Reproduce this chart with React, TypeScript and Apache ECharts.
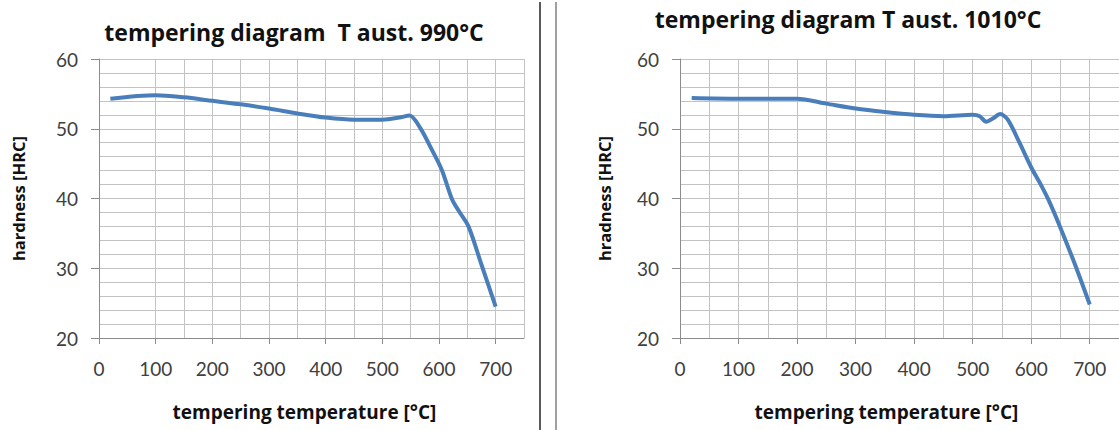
import React, { useEffect, useRef } from "react";
import * as echarts from "echarts";

const temps990 = [20, 100, 150, 200, 250, 300, 350, 400, 450, 500, 530, 548, 567, 588, 605, 623, 635, 652, 675, 700];
const hrc990 = [54.3, 54.8, 54.5, 54.0, 53.5, 52.9, 52.2, 51.6, 51.3, 51.3, 51.6, 51.9, 50.1, 46.9, 44.1, 39.9, 38.2, 36.0, 30.5, 24.5];
const temps1010 = [20, 100, 150, 200, 250, 300, 350, 400, 450, 500, 512, 523, 535, 547, 560, 580, 601, 615, 629, 649, 675, 700];
const hrc1010 = [54.4, 54.3, 54.3, 54.3, 53.6, 52.9, 52.4, 52.0, 51.8, 52.0, 51.8, 51.0, 51.5, 52.1, 51.3, 48.0, 44.3, 42.2, 39.9, 36.0, 30.5, 24.8];
const xTickLabels = [0, 100, 200, 300, 400, 500, 600, 700];
const xGridLeft = [0, 100, 150, 200, 250, 300, 350, 400, 450, 500, 550, 600, 650, 700, 750];
const titles = ["tempering diagram  T aust. 990°C", "tempering diagram T aust. 1010°C"];
const yNames = ["hardness [HRC]", "hradness [HRC]"];
const xName = "tempering temperature [°C]";

const BOLD_FONT = "'Open Sans', Lato, sans-serif";
const TICK_FONT = "Lato, 'Open Sans', sans-serif";
const GRID_C = "#c3c3c3";
const AXIS_C = "#8c8c8c";
const LABEL_C = "#404040";
const LINE_C = "#4a7ebb";

export default function App() {
  const ref = useRef<HTMLDivElement>(null);
  useEffect(() => {
    if (!ref.current) return;
    const chart = echarts.init(ref.current, null, { renderer: "svg" });
    const pair = (xs: number[], ys: number[]) => xs.map((x, i) => [x, ys[i]]);

    const mainX = (gi: number, custom?: number[]) => ({
      type: "value",
      gridIndex: gi,
      min: 0,
      max: 750,
      interval: 50,
      position: "bottom",
      axisLine: { show: true, lineStyle: { color: AXIS_C, width: 1 } },
      axisTick: custom ? { show: false, customValues: custom } : { show: false },
      axisLabel: { show: false },
      splitLine: { show: true, lineStyle: { color: GRID_C, width: 1 } },
    });
    const labelX = (gi: number, gap: number, shift: number) => ({
      type: "value",
      gridIndex: gi,
      min: 0,
      max: 750,
      interval: 100,
      position: "bottom",
      name: xName,
      nameLocation: "middle",
      nameGap: gap,
      nameTextStyle: {
        fontFamily: BOLD_FONT,
        fontWeight: "bold",
        fontSize: 19,
        color: "#111",
        padding: [0, shift, 0, 0],
      },
      axisLine: { show: false },
      axisTick: { show: true, length: 6, customValues: xTickLabels, lineStyle: { color: AXIS_C } },
      axisLabel: {
        show: true,
        customValues: xTickLabels,
        margin: 21,
        fontFamily: TICK_FONT,
        fontSize: 19,
        color: LABEL_C,
      },
      splitLine: { show: false },
    });
    const yAx = (gi: number, gap: number) => ({
      type: "value",
      gridIndex: gi,
      min: 20,
      max: 60,
      interval: 10,
      name: yNames[gi],
      nameLocation: "middle",
      nameGap: gap,
      nameTextStyle: { fontFamily: BOLD_FONT, fontWeight: "bold", fontSize: 16.5, color: "#111" },
      axisLine: { show: true, lineStyle: { color: AXIS_C, width: 1 } },
      axisTick: { show: true, length: 8, lineStyle: { color: AXIS_C } },
      axisLabel: { margin: 21, fontFamily: TICK_FONT, fontSize: 19, color: LABEL_C },
      splitLine: { show: true, lineStyle: { color: GRID_C, width: 1 } },
      minorTick: { show: false, splitNumber: 5 },
      minorSplitLine: { show: true, lineStyle: { color: GRID_C, width: 1 } },
    });

    const titleStyle = (text: string) => ({
      text,
      fontFamily: BOLD_FONT,
      fontWeight: "bold",
      fontSize: 23,
      fill: "#111",
      textAlign: "center",
      textVerticalAlign: "middle",
    });

    chart.setOption({
      animation: false,
      backgroundColor: "#ffffff",
      grid: [
        { left: 99, top: 59, width: 425, height: 279, containLabel: false },
        { left: 680, top: 59, width: 445, height: 279, containLabel: false },
      ],
      xAxis: [mainX(0, xGridLeft), labelX(0, 64, 14), mainX(1), labelX(1, 64, 26)],
      yAxis: [yAx(0, 72), yAx(1, 67)],
      series: [
        {
          type: "line",
          xAxisIndex: 0,
          yAxisIndex: 0,
          data: pair(temps990, hrc990),
          smooth: 0.3,
          symbol: "none",
          lineStyle: { color: LINE_C, width: 4 },
          clip: false,
        },
        {
          type: "line",
          xAxisIndex: 2,
          yAxisIndex: 1,
          data: pair(temps1010, hrc1010),
          smooth: 0.3,
          symbol: "none",
          lineStyle: { color: LINE_C, width: 4 },
          clip: false,
        },
      ],
      graphic: [
        { type: "text", x: 294, y: 32, style: titleStyle(titles[0]) },
        { type: "text", x: 848, y: 19, style: titleStyle(titles[1]) },
        {
          type: "line",
          shape: { x1: 540, y1: 2, x2: 540, y2: 430 },
          style: { stroke: "#5a5a5a", lineWidth: 2 },
        },
        {
          type: "line",
          shape: { x1: 556, y1: 2, x2: 556, y2: 430 },
          style: { stroke: "#a0a0a0", lineWidth: 2 },
        },
      ],
    });
    return () => chart.dispose();
  }, []);
  return (
    <div
      ref={ref}
      style={{ position: "absolute", left: 0, top: 0, width: 1119, height: 430, background: "#fff" }}
    />
  );
}
